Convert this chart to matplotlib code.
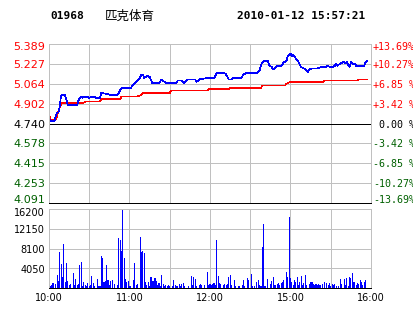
import numpy as np
import matplotlib
matplotlib.use("Agg")
import matplotlib.pyplot as plt
from matplotlib import transforms

code = "01968"
name = "匹克体育"
stamp = "2010-01-12 15:57:21"
prev_close = 4.740
price_lo, price_hi = 4.091, 5.389

# labels of the nine price grid lines, bottom to top
price_labels = ["4.091", "4.253", "4.415", "4.578", "4.740", "4.902", "5.064", "5.227", "5.389"]
pct_labels = ["-13.69%", "-10.27%", "-6.85 %", "-3.42 %", " 0.00 %", "+3.42 %", "+6.85 %", "+10.27%", "+13.69%"]

# minutes after 10:00 (lunch break removed), 240 minutes in the session
time_ticks = [0, 60, 120, 180, 240]
time_labels = ["10:00", "11:00", "12:00", "15:00", "16:00"]

price_min = [0, 1, 4, 5, 6, 7, 8, 9, 12, 13, 14, 21, 22, 23, 24, 25, 28, 30, 33, 35,
             38, 39, 44, 46, 51, 54, 61, 63, 65, 67, 69, 70, 71, 73, 75, 77, 82, 84, 85, 87,
             95, 96, 99, 101, 103, 109, 110, 112, 117, 123, 125, 131, 132, 134, 136, 137, 143, 145, 147, 155,
             156, 157, 158, 160, 163, 164, 166, 167, 168, 170, 173, 174, 175, 177, 178, 180, 181, 182, 183, 184,
             185, 186, 187, 188, 190, 191, 192, 193, 194, 196, 200, 203, 206, 207, 211, 213, 214, 215, 217, 219,
             220, 221, 222, 224, 225, 227, 228, 229, 235, 236, 237]
price_val = [4.79, 4.76, 4.76, 4.80, 4.83, 4.83, 4.88, 4.97, 4.97, 4.93, 4.89, 4.89, 4.93, 4.95, 4.96, 4.95, 4.96, 4.95, 4.96, 4.95,
             4.95, 4.99, 4.98, 4.97, 4.97, 5.03, 5.03, 5.06, 5.08, 5.10, 5.14, 5.14, 5.11, 5.13, 5.12, 5.07, 5.07, 5.10, 5.09, 5.07,
             5.07, 5.09, 5.09, 5.07, 5.10, 5.10, 5.08, 5.10, 5.11, 5.11, 5.15, 5.15, 5.14, 5.10, 5.10, 5.11, 5.11, 5.14, 5.15, 5.15,
             5.16, 5.17, 5.22, 5.25, 5.25, 5.22, 5.20, 5.18, 5.19, 5.21, 5.21, 5.22, 5.24, 5.25, 5.29, 5.31, 5.29, 5.30, 5.29, 5.27,
             5.26, 5.24, 5.22, 5.20, 5.19, 5.18, 5.17, 5.16, 5.18, 5.19, 5.19, 5.20, 5.20, 5.21, 5.20, 5.21, 5.23, 5.21, 5.23, 5.24,
             5.24, 5.23, 5.24, 5.20, 5.24, 5.22, 5.23, 5.21, 5.21, 5.24, 5.25]

avg_min = [0, 1, 5, 6, 7, 9, 10, 26, 27, 38, 39, 53, 54, 66, 68, 70, 90, 91, 118, 119,
           134, 135, 158, 159, 176, 177, 180, 204, 205, 230, 231, 237]
avg_val = [4.83, 4.77, 4.77, 4.80, 4.84, 4.90, 4.91, 4.91, 4.92, 4.92, 4.94, 4.94, 4.96, 4.96, 4.97, 4.99, 4.99, 5.01, 5.01, 5.02,
           5.02, 5.03, 5.03, 5.05, 5.05, 5.065, 5.08, 5.08, 5.09, 5.09, 5.10, 5.10]

# volume per minute
volume = [0, 400, 600, 1000, 0, 800, 2700, 1400, 7400, 4900,
          2250, 9000, 1200, 5100, 1400, 600, 800, 0, 3100, 600,
          1850, 600, 800, 4700, 5300, 400, 1200, 600, 400, 1000,
          400, 600, 2460, 1000, 400, 0, 1850, 400, 400, 6560,
          6150, 1200, 1400, 4700, 1600, 600, 1400, 1600, 0, 800,
          0, 600, 10250, 9840, 7590, 16000, 6150, 1850, 1200, 1400,
          400, 400, 0, 1640, 5130, 600, 800, 0, 10460, 7380,
          7590, 7180, 1230, 600, 1230, 400, 2250, 1440, 1440, 2050,
          1440, 600, 1000, 400, 2670, 800, 400, 600, 400, 600,
          400, 0, 400, 1640, 600, 400, 400, 800, 400, 800,
          1000, 400, 0, 0, 400, 0, 2460, 600, 2250, 1850,
          400, 0, 600, 800, 600, 0, 600, 0, 3280, 600,
          800, 600, 800, 1000, 600, 9840, 2460, 1000, 800, 0,
          600, 800, 600, 800, 2250, 2670, 600, 0, 1640, 400,
          0, 400, 400, 0, 600, 1640, 400, 0, 2050, 1640,
          0, 2870, 400, 400, 0, 1230, 1640, 600, 400, 8400,
          13120, 400, 0, 1850, 0, 800, 1440, 2250, 600, 600,
          800, 1000, 600, 1000, 1230, 1640, 0, 3280, 2250, 14600,
          1980, 1300, 620, 1640, 1300, 2260, 550, 1230, 2460, 550,
          1000, 2600, 550, 0, 890, 1230, 1230, 890, 550, 890,
          550, 890, 550, 0, 890, 1230, 0, 1000, 550, 1000,
          400, 890, 550, 890, 400, 0, 400, 1920, 890, 0,
          1920, 550, 2050, 400, 2260, 1980, 3140, 1230, 1300, 550,
          1000, 890, 1580, 1300, 550, 1230, 1580, 0]
vol_max = 16200

RED = "#ff0000"
GREEN = "#006000"
GRID = "#c0c0c0"
LW = 0.72  # one pixel at 100 dpi

W, H = 414, 314
fig = plt.figure(figsize=(W / 100, H / 100), dpi=100)


def box(l, t, r, b):
    return [l / W, 1 - b / H, (r - l) / W, (b - t) / H]


ax = fig.add_axes(box(49, 44, 371, 203))
axv = fig.add_axes(box(49, 209, 371, 288))

price_ticks = np.linspace(price_lo, price_hi, len(price_labels))
vol_ticks = np.linspace(0, vol_max, 5)

for a in (ax, axv):
    a.set_xlim(0, 240)
    a.set_xticks(range(0, 241, 30))
    a.grid(True, color=GRID, lw=LW)
    a.set_axisbelow(True)
    a.tick_params(length=0, labelleft=False, labelbottom=False)
    for s in ("left", "top", "right"):
        a.spines[s].set_color(GRID)
        a.spines[s].set_linewidth(LW)
    a.spines["bottom"].set_color("black")
    a.spines["bottom"].set_linewidth(LW)

ax.set_ylim(price_lo, price_hi)
ax.set_yticks(price_ticks)
axv.set_ylim(0, vol_max)
axv.set_yticks(vol_ticks)

ax.axhline(prev_close, color="black", lw=LW, antialiased=False)
ax.plot(avg_min, avg_val, color="#ff0000", lw=0.5, antialiased=False)
ax.plot(price_min, price_val, color="#0000ff", lw=0.5, antialiased=False)

axv.bar(np.arange(len(volume)), volume, width=0.8, color="#0000ff",
        linewidth=0, antialiased=False)


def shift(i, n):
    # nudge end labels inwards, as the original does
    if i == n - 1:
        return -3
    if i == 0:
        return 3
    return -1


# price labels (left) and percent labels (right)
for i, (t, plab, qlab) in enumerate(zip(price_ticks, price_labels, pct_labels)):
    if qlab.startswith("+"):
        col = RED
    elif qlab.startswith("-"):
        col = GREEN
    else:
        col = "black"
    dy = shift(i, len(price_ticks))
    ltr = transforms.offset_copy(ax.get_yaxis_transform(), fig=fig, x=-4, y=dy, units="dots")
    rtr = transforms.offset_copy(ax.get_yaxis_transform(), fig=fig, x=2, y=dy, units="dots")
    ax.text(0, t, plab, transform=ltr, ha="right", va="center",
            color=col, fontsize=8, family="DejaVu Sans")
    ax.text(1, t, qlab, transform=rtr, ha="left", va="center",
            color=col, fontsize=7.2, family="DejaVu Sans Mono")

for i, v in enumerate(vol_ticks):
    if i == 0:
        continue
    dy = -4 if i == len(vol_ticks) - 1 else -1.5
    vtr = transforms.offset_copy(axv.get_yaxis_transform(), fig=fig, x=-4, y=dy, units="dots")
    axv.text(0, v, f"{v:.0f}", transform=vtr, ha="right", va="center",
             color="black", fontsize=7, family="DejaVu Sans")

time_tr = transforms.offset_copy(axv.get_xaxis_transform(), fig=fig, x=0, y=-10, units="dots")
for m, lab in zip(time_ticks, time_labels):
    axv.text(m, 0, lab, transform=time_tr, ha="center", va="center",
             color="black", fontsize=7, family="DejaVu Sans")

ytop = 1 - 16 / H
fig.text(50 / W, ytop, code, fontsize=8, fontweight="bold",
         family="DejaVu Sans Mono", va="center")
fig.text(105 / W, ytop, name, fontsize=9, family=["Noto Sans CJK SC", "DejaVu Sans"],
         va="center")
fig.text(237 / W, ytop, stamp, fontsize=8, fontweight="bold",
         family="DejaVu Sans Mono", va="center")

fig.savefig("out.png", dpi=100)
